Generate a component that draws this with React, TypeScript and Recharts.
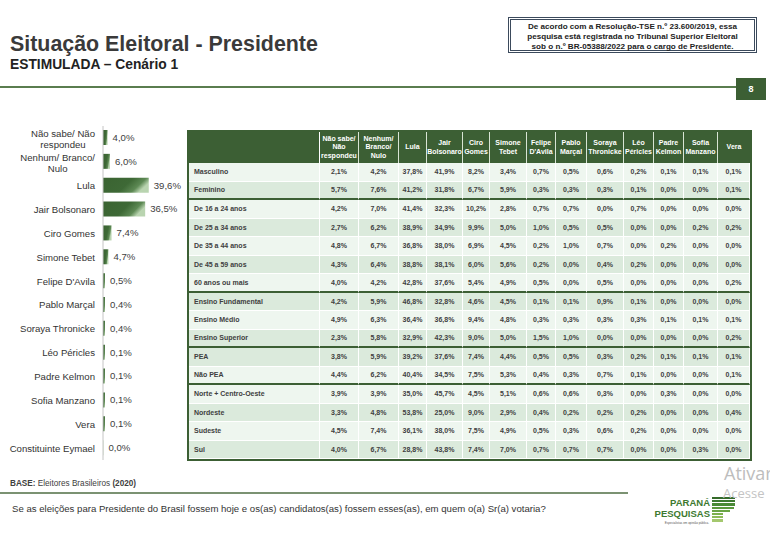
import React from 'react'
import { BarChart, Bar, XAxis, YAxis, LabelList } from 'recharts'

// total stimulated vote, cenário 1
const candidates = [
  'Não sabe/ Não\nrespondeu',
  'Nenhum/ Branco/\nNulo',
  'Lula',
  'Jair Bolsonaro',
  'Ciro Gomes',
  'Simone Tebet',
  "Felipe D'Avila",
  'Pablo Marçal',
  'Soraya Thronicke',
  'Léo Péricles',
  'Padre Kelmon',
  'Sofia Manzano',
  'Vera',
  'Constituinte Eymael',
]
const totals = [4.0, 6.0, 39.6, 36.5, 7.4, 4.7, 0.5, 0.4, 0.4, 0.1, 0.1, 0.1, 0.1, 0.0]

const tableHeaders = [
  'Não sabe/\nNão\nrespondeu',
  'Nenhum/\nBranco/\nNulo',
  'Lula',
  'Jair\nBolsonaro',
  'Ciro\nGomes',
  'Simone\nTebet',
  "Felipe\nD'Avila",
  'Pablo\nMarçal',
  'Soraya\nThronicke',
  'Léo\nPéricles',
  'Padre\nKelmon',
  'Sofia\nManzano',
  'Vera',
]

type Row = [string, number[]]

const genderRows: Row[] = [
  ['Masculino', [2.1, 4.2, 37.8, 41.9, 8.2, 3.4, 0.7, 0.5, 0.6, 0.2, 0.1, 0.1, 0.1]],
  ['Feminino', [5.7, 7.6, 41.2, 31.8, 6.7, 5.9, 0.3, 0.3, 0.3, 0.1, 0.0, 0.0, 0.1]],
]
const ageRows: Row[] = [
  ['De 16 a 24 anos', [4.2, 7.0, 41.4, 32.3, 10.2, 2.8, 0.7, 0.7, 0.0, 0.7, 0.0, 0.0, 0.0]],
  ['De 25 a 34 anos', [2.7, 6.2, 38.9, 34.9, 9.9, 5.0, 1.0, 0.5, 0.5, 0.0, 0.0, 0.2, 0.2]],
  ['De 35 a 44 anos', [4.8, 6.7, 36.8, 38.0, 6.9, 4.5, 0.2, 1.0, 0.7, 0.0, 0.2, 0.0, 0.0]],
  ['De 45 a 59 anos', [4.3, 6.4, 38.8, 38.1, 6.0, 5.6, 0.2, 0.0, 0.4, 0.2, 0.0, 0.0, 0.0]],
  ['60 anos ou mais', [4.0, 4.2, 42.8, 37.6, 5.4, 4.9, 0.5, 0.0, 0.5, 0.0, 0.0, 0.0, 0.2]],
]
const educationRows: Row[] = [
  ['Ensino Fundamental', [4.2, 5.9, 46.8, 32.8, 4.6, 4.5, 0.1, 0.1, 0.9, 0.1, 0.0, 0.0, 0.0]],
  ['Ensino Médio', [4.9, 6.3, 36.4, 36.8, 9.4, 4.8, 0.3, 0.3, 0.3, 0.3, 0.1, 0.1, 0.1]],
  ['Ensino Superior', [2.3, 5.8, 32.9, 42.3, 9.0, 5.0, 1.5, 1.0, 0.0, 0.0, 0.0, 0.0, 0.2]],
]
const peaRows: Row[] = [
  ['PEA', [3.8, 5.9, 39.2, 37.6, 7.4, 4.4, 0.5, 0.5, 0.3, 0.2, 0.1, 0.1, 0.1]],
  ['Não PEA', [4.4, 6.2, 40.4, 34.5, 7.5, 5.3, 0.4, 0.3, 0.7, 0.1, 0.0, 0.0, 0.1]],
]
const regionRows: Row[] = [
  ['Norte + Centro-Oeste', [3.9, 3.9, 35.0, 45.7, 4.5, 5.1, 0.6, 0.6, 0.3, 0.0, 0.3, 0.0, 0.0]],
  ['Nordeste', [3.3, 4.8, 53.8, 25.0, 9.0, 2.9, 0.4, 0.2, 0.2, 0.2, 0.0, 0.0, 0.4]],
  ['Sudeste', [4.5, 7.4, 36.1, 38.0, 7.5, 4.9, 0.5, 0.3, 0.6, 0.2, 0.0, 0.0, 0.0]],
  ['Sul', [4.0, 6.7, 28.8, 43.8, 7.4, 7.0, 0.7, 0.7, 0.7, 0.0, 0.0, 0.3, 0.0]],
]

// groups and whether their first row is the light shade
const groups: Array<[Row[], boolean]> = [
  [genderRows, true],
  [ageRows, true],
  [educationRows, false],
  [peaRows, false],
  [regionRows, true],
]

const FONT = '"Liberation Sans", Arial, Helvetica, sans-serif'
const GREEN = '#3c5f34'
const LIGHT = '#eef6ef'
const DARK = '#dbeadc'
const colWidths = [131, 39, 40, 28, 36, 27, 37, 29, 31, 37, 30, 30, 34, 32]

const pct = (v: number) => v.toFixed(1).replace('.', ',') + '%'

const chartData = candidates.map((name, i) => ({ name, value: totals[i] }))

let ctx: CanvasRenderingContext2D | null = null
function textWidth(s: string, font: string) {
  if (!ctx) ctx = document.createElement('canvas').getContext('2d')
  if (!ctx) return s.length * 5
  ctx.font = font
  return ctx.measureText(s).width
}

function CandidateTick(props: any) {
  const { x, y, payload } = props
  const lines = String(payload.value).split('\n')
  if (lines.length === 1) {
    return (
      <text x={x} y={y} dy={3.5} textAnchor="end" fontSize={9.6} fontFamily={FONT} fill="#333">
        {lines[0]}
      </text>
    )
  }
  const w = Math.max(...lines.map(l => textWidth(l, `9.6px ${FONT}`)))
  const cx = x - w / 2
  return (
    <text textAnchor="middle" fontSize={9.6} fontFamily={FONT} fill="#333">
      <tspan x={cx} y={y - 1}>{lines[0]}</tspan>
      <tspan x={cx} y={y + 10}>{lines[1]}</tspan>
    </text>
  )
}

function VoteBars() {
  return (
    <BarChart
      width={185}
      height={334}
      data={chartData}
      layout="vertical"
      margin={{ top: 0, right: 30, bottom: 0, left: 0 }}
    >
      <defs>
        <linearGradient id="barGrad" x1="0" y1="0" x2="1" y2="0.35">
          <stop offset="0" stopColor="#3a6331" />
          <stop offset="0.6" stopColor="#3e6936" />
          <stop offset="0.85" stopColor="#5d8954" />
          <stop offset="1" stopColor="#b9d4b0" />
        </linearGradient>
      </defs>
      <XAxis type="number" domain={[0, 45]} hide />
      <YAxis
        type="category"
        dataKey="name"
        width={103}
        interval={0}
        axisLine={{ stroke: '#c4c4c4' }}
        tickLine={false}
        tick={<CandidateTick />}
      />
      <Bar
        dataKey="value"
        fill="url(#barGrad)"
        barSize={15}
        minPointSize={(v: number) => (v > 0 ? 2 : 0.4)}
        isAnimationActive={false}
      >
        <LabelList
          dataKey="value"
          position="right"
          offset={5}
          formatter={(v: any) => pct(Number(v))}
          style={{ fontSize: 9.6, fontFamily: FONT, fill: '#404040' }}
        />
      </Bar>
    </BarChart>
  )
}

function SegmentTable() {
  const cell: React.CSSProperties = {
    boxSizing: 'border-box',
    display: 'flex',
    alignItems: 'center',
    justifyContent: 'center',
    borderRight: '1px solid #fff',
    borderBottom: '1px solid #fff',
    height: 18.5,
  }
  const bodyRows: React.ReactNode[] = []
  groups.forEach(([rows, startLight], gi) => {
    rows.forEach(([label, values], ri) => {
      const light = (ri % 2 === 0) === startLight
      const last = ri === rows.length - 1 && gi < groups.length - 1
      const bg = light ? LIGHT : DARK
      const bb = last ? `2px solid ${GREEN}` : '1px solid #fff'
      bodyRows.push(
        <div key={label} style={{ display: 'flex' }}>
          <div
            style={{ ...cell, width: colWidths[0], justifyContent: 'flex-start', paddingLeft: 5, background: bg, borderBottom: bb }}
          >
            {label}
          </div>
          {values.map((v, i) => (
            <div key={i} style={{ ...cell, width: colWidths[i + 1], background: bg, borderBottom: bb }}>
              {pct(v)}
            </div>
          ))}
        </div>
      )
    })
  })

  return (
    <div
      style={{
        position: 'absolute',
        left: 187,
        top: 130,
        width: 565,
        boxSizing: 'border-box',
        border: `2px solid ${GREEN}`,
        fontFamily: FONT,
        fontSize: 7,
        fontWeight: 'bold',
        color: '#404040',
        background: '#fff',
      }}
    >
      <div style={{ display: 'flex', background: GREEN, color: '#fff' }}>
        <div style={{ ...cell, width: colWidths[0], height: 31, borderBottom: 'none' }} />
        {tableHeaders.map((h, i) => (
          <div
            key={h}
            style={{
              ...cell,
              width: colWidths[i + 1],
              height: 31,
              borderBottom: 'none',
              borderRight: i === tableHeaders.length - 1 ? 'none' : '1px solid #d8e4d4',
              textAlign: 'center',
              whiteSpace: 'pre-line',
              lineHeight: '8.5px',
            }}
          >
            {h}
          </div>
        ))}
      </div>
      {bodyRows}
    </div>
  )
}

function Logo() {
  const stripes = [23, 23, 23, 22, 18, 11, 11, 11]
  const shades = ['#356b2a', '#3d7a30', '#4a8a36', '#5a983d', '#6aa545', '#7cb04d', '#8dbb58', '#a4c86e']
  const word: React.CSSProperties = {
    position: 'absolute',
    right: 30,
    fontFamily: '"Liberation Sans Narrow", "Liberation Sans", Arial, sans-serif',
    fontWeight: 'bold',
    fontSize: 9.5,
    lineHeight: '10px',
    color: '#3d7a30',
    whiteSpace: 'nowrap',
    letterSpacing: 0,
  }
  return (
    <div style={{ position: 'absolute', left: 640, top: 497, width: 100, height: 32 }}>
      <div style={{ ...word, top: 1 }}>PARANÁ</div>
      <div style={{ ...word, top: 12 }}>PESQUISAS</div>
      <div
        style={{
          position: 'absolute',
          right: 31,
          top: 24,
          fontFamily: FONT,
          fontSize: 3,
          lineHeight: '4px',
          color: '#555',
          whiteSpace: 'nowrap',
        }}
      >
        Especialistas em opinião pública.
      </div>
      {stripes.map((w, i) => (
        <div
          key={i}
          style={{ position: 'absolute', left: 72, top: i * 3.2, width: w, height: 2.2, background: shades[i] }}
        />
      ))}
    </div>
  )
}

export default function App() {
  return (
    <div
      style={{
        position: 'absolute',
        left: 0,
        top: 0,
        width: 770,
        height: 537,
        background: '#fff',
        overflow: 'hidden',
        fontFamily: FONT,
        color: '#3a3a3a',
      }}
    >
      <div style={{ position: 'absolute', left: 10, top: 34, fontSize: 21.4, lineHeight: '21.4px', fontWeight: 'bold', whiteSpace: 'nowrap' }}>
        Situação Eleitoral - Presidente
      </div>
      <div style={{ position: 'absolute', left: 10, top: 58, fontSize: 13.8, lineHeight: '13.8px', fontWeight: 'bold', color: '#222', whiteSpace: 'nowrap' }}>
        ESTIMULADA – Cenário 1
      </div>
      <div
        style={{
          position: 'absolute',
          left: 508,
          top: 17,
          width: 249,
          height: 36,
          boxSizing: 'border-box',
          border: '3px double #3b4a5c',
          fontSize: 8.1,
          lineHeight: '10px',
          fontWeight: 'bold',
          color: '#222',
          textAlign: 'center',
          paddingTop: 2,
        }}
      >
        De acordo com a Resolução-TSE n.º 23.600/2019, essa
        <br />
        pesquisa está registrada no Tribunal Superior Eleitoral
        <br />
        sob o n.º BR-05388/2022 para o cargo de Presidente.
      </div>
      <div style={{ position: 'absolute', left: 0, top: 86, width: 736, height: 2, background: '#5a7d4f' }} />
      <div
        style={{
          position: 'absolute',
          left: 736,
          top: 78,
          width: 30,
          height: 22,
          background: GREEN,
          color: '#fff',
          fontSize: 9,
          fontWeight: 'bold',
          display: 'flex',
          alignItems: 'center',
          justifyContent: 'center',
        }}
      >
        8
      </div>

      <div style={{ position: 'absolute', left: 0, top: 126 }}>
        <VoteBars />
      </div>

      <SegmentTable />

      <div style={{ position: 'absolute', left: 10, top: 479, fontSize: 8.2, lineHeight: '10px', color: '#404040', whiteSpace: 'nowrap' }}>
        <b>BASE:</b> Eleitores Brasileiros <b>(2020)</b>
      </div>
      <div style={{ position: 'absolute', left: 0, top: 492, width: 628, height: 1.5, background: '#7b9272' }} />
      <div style={{ position: 'absolute', left: 12, top: 503, fontSize: 9.6, lineHeight: '12px', color: '#333', whiteSpace: 'nowrap' }}>
        Se as eleições para Presidente do Brasil fossem hoje e os(as) candidatos(as) fossem esses(as), em quem o(a) Sr(a) votaria?
      </div>

      <Logo />

      <div style={{ position: 'absolute', left: 724, top: 462, fontFamily: '"Open Sans", sans-serif', fontSize: 18, lineHeight: '22px', color: '#bdbdbd', whiteSpace: 'nowrap' }}>
        Ativar
      </div>
      <div style={{ position: 'absolute', left: 723, top: 485, fontFamily: '"Open Sans", sans-serif', fontSize: 13, lineHeight: '16px', color: '#c4c4c4', whiteSpace: 'nowrap' }}>
        Acesse
      </div>
    </div>
  )
}
